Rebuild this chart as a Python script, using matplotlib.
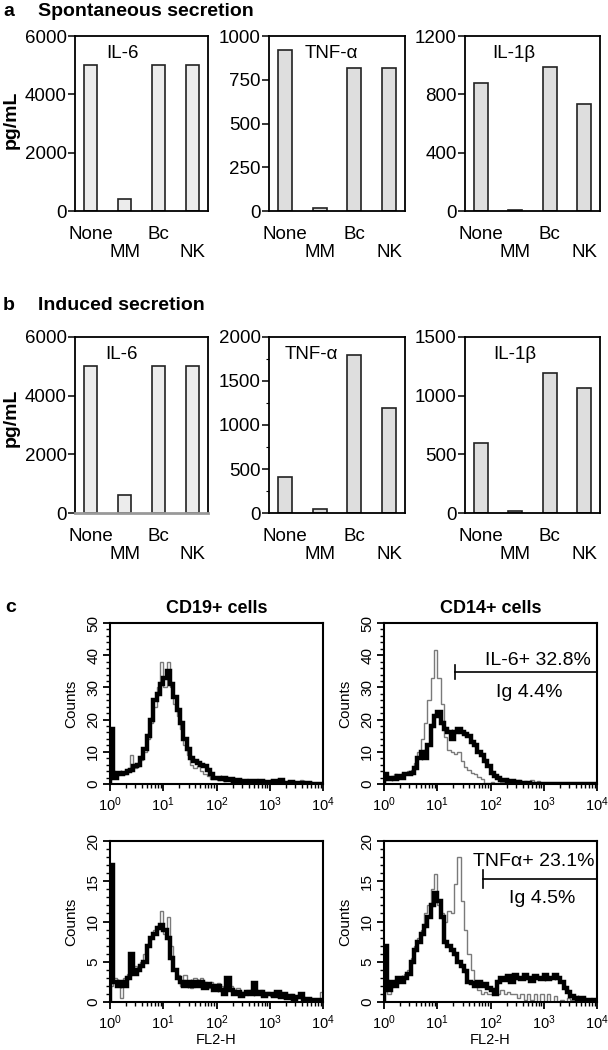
import matplotlib
matplotlib.use("Agg")
import matplotlib.pyplot as plt
import matplotlib.ticker as mticker
import numpy as np

plt.rcParams['font.family'] = ['Liberation Sans', 'DejaVu Sans']
plt.rcParams['mathtext.default'] = 'regular'

# ---- panel a / b: cytokine secretion (pg/mL) ----
categories = ["None", "MM", "Bc", "NK"]

spont_il6 = [5000, 420, 5000, 5000]
spont_tnf = [918, 19, 817, 817]
spont_il1b = [880, 8, 985, 734]

induced_il6 = [5000, 630, 5000, 5000]
induced_tnf = [405, 42, 1790, 1195]
induced_il1b = [600, 15, 1190, 1062]

# ---- panel c: flow histograms, 16 channels per decade (10^0 .. 10^4) ----
cd19_il6_stain = [17, 2, 3.5, 3, 3.5, 4, 4.5, 5.5, 6, 8, 11, 15, 20, 26, 28, 31,
                  33, 35, 31, 27, 23, 19, 14, 11, 8, 7, 6.5, 6, 5.5, 4.5, 3, 2,
                  1.8, 1.5, 1.8, 1.2, 1.5, 1, 1.2, 0.8, 1, 0.6, 0.8, 1, 0.5, 0.8, 0.4, 0.6,
                  0.4, 0.8, 0.5, 1.2, 0.4, 0.3, 0.5, 0.2, 0.3, 0.2, 0.1, 0.2, 0.1, 0, 0.1, 0]
cd19_il6_ctrl = [3, 2, 3, 3.5, 3, 4, 9, 5, 5.5, 7.5, 10, 14, 19, 24, 30, 38,
                 30, 38, 30, 25, 21, 17, 12, 9, 6, 5, 5.5, 4, 3, 2.5, 1.5, 1.5,
                 1.2, 1.5, 1, 1.2, 0.8, 1, 0.6, 0.8, 0.5, 0.8, 0.4, 0.6, 0.8, 0.4, 0.6, 0.3,
                 0.5, 0.3, 0.6, 0.8, 0.3, 0.5, 0.2, 0.6, 0.3, 1.2, 0.2, 0.3, 0.1, 0.2, 0, 0]
cd14_il6_stain = [3, 1.5, 2, 1.5, 2.5, 2, 3, 3, 3.5, 5, 8, 10, 8, 12, 18, 21,
                  22.5, 19, 17, 16, 14, 16, 17, 16, 15.5, 15, 13, 12, 10, 9, 7, 5.5,
                  3.5, 2.5, 1.8, 1.3, 1.2, 0.8, 1, 0.5, 0.5, 0.3, 0.2, 0.3, 0.1, 0, 0, 0,
                  0, 0, 0, 0, 0, 0, 0, 0, 0, 0, 0, 0, 0, 0, 0, 0]
cd14_il6_ctrl = [3, 2, 2.5, 3, 2, 3, 3.5, 4, 4.5, 6.5, 10, 14, 19, 26, 33, 41.5,
                 33, 25, 14.6, 10.6, 10, 9.3, 10, 7, 5.4, 4.5, 3.4, 3, 2.3, 1.5, 0.3, 0.2,
                 0.5, 0.2, 0.3, 0.5, 0.2, 0.3, 0.8, 0.5, 1.2, 0.5, 1, 0.5, 1.2, 0.3, 0.8, 0.2,
                 0, 0, 0, 0, 0, 0, 0, 0, 0, 0, 0, 0, 0, 0, 0, 0]
cd19_tnf_stain = [17, 2.5, 2, 2.5, 2, 3, 6, 3.5, 4, 4.5, 5, 7, 8, 8.5, 9.2, 9.6,
                  9, 8, 5.5, 4, 3, 2.5, 2, 2.5, 2, 2.5, 2, 2.5, 1.8, 2.2, 2, 1.5,
                  2, 1.5, 1, 3, 1.5, 1, 1.2, 0.8, 1, 1.2, 1, 2.3, 1, 1.2, 0.8, 1,
                  1, 0.8, 1.2, 0.6, 1, 0.5, 0.8, 0.4, 0.6, 1, 0.3, 0.4, 0.2, 0.3, 0.2, 0.3]
cd19_tnf_ctrl = [2, 3, 2, 0.5, 3, 3.5, 4, 4.5, 4, 5, 6, 7, 8, 9, 9.5, 11.3,
                 8.5, 10.5, 7, 4, 3.3, 2, 3.3, 2, 1.8, 3, 2, 3, 2.5, 1.8, 2.5, 1.8,
                 2.3, 2, 1.5, 2.5, 2, 1.5, 1.8, 1.2, 1, 1.5, 1.2, 1.8, 1.3, 1.5, 1, 1.2,
                 0.8, 1, 1.3, 0.8, 1, 0.7, 1, 0.6, 0.5, 0.8, 0.5, 0.4, 0.2, 0.3, 0.2, 1.3]
cd14_tnf_stain = [7, 1.5, 2.5, 2, 3, 2.5, 3, 3.5, 5, 6.5, 7.5, 8.5, 9.5, 10.5, 12, 13.5,
                  12.5, 10.5, 7.5, 7, 6.5, 6, 5, 4.5, 3.8, 2.5, 2.3, 2, 2.5, 2, 2.2, 1.8,
                  1.5, 1, 2.5, 3, 2.7, 3.2, 2.5, 3.3, 3, 2.8, 3.3, 3, 2.6, 3.2, 3, 2.8,
                  3.3, 2.8, 3, 3.3, 3, 2.5, 1.7, 1.3, 0.8, 0.5, 0.3, 0.5, 0.2, 0.3, 0.1, 0.2]
cd14_tnf_ctrl = [2, 1, 2.5, 2, 3, 3, 3.5, 4, 5.5, 7, 8, 9, 11, 12, 14, 15.9,
                 12, 11, 10, 11.3, 11, 14.6, 18, 12.5, 9, 6, 4, 2.3, 1.5, 1, 1.2, 1,
                 1, 1.2, 1, 1.5, 1, 1.2, 1, 1, 0.5, 1, 0.3, 1, 0.3, 1, 0, 1,
                 0, 1, 0, 0.8, 0, 0.3, 0, 0.5, 0.2, 0, 0, 0, 0, 0, 0, 0]

W, H = 608, 1050
fig = plt.figure(figsize=(W / 100, H / 100), dpi=100)


def add_box(x0, x1, ytop, ybot):
    # pixel box -> figure fraction
    return fig.add_axes([x0 / W, 1 - ybot / H, (x1 - x0) / W, (ybot - ytop) / H])


def bar_panel(ax, vals, ymax, step, name, name_x, color):
    x = np.arange(len(categories))
    ax.bar(x, vals, width=0.4, color=color, edgecolor='#222222', linewidth=1.2)
    ax.set_xlim(-0.46, 3.46)
    ax.set_ylim(0, ymax)
    ax.set_yticks(np.arange(0, ymax + 1, step))
    ax.set_xticks(x)
    ax.set_xticklabels([c if i % 2 == 0 else "\n" + c for i, c in enumerate(categories)],
                       linespacing=1.05)
    ax.tick_params(axis='x', length=0, pad=11, labelsize=13.5)
    ax.tick_params(axis='y', direction='out', length=5, width=1.1, labelsize=13.5, pad=1)
    for s in ax.spines.values():
        s.set_linewidth(1.3)
    ax.text(name_x, 0.9, name, transform=ax.transAxes, ha='center', va='center', fontsize=13.5)


light, mid = '#ececec', '#dedede'
xcols = [(75, 208), (269, 405), (465, 600)]

# panel a
row_a = [add_box(x0, x1, 36, 211) for x0, x1 in xcols]
bar_panel(row_a[0], spont_il6, 6000, 2000, "IL-6", 0.36, light)
bar_panel(row_a[1], spont_tnf, 1000, 250, "TNF-α", 0.46, mid)
bar_panel(row_a[2], spont_il1b, 1200, 400, "IL-1β", 0.36, mid)

# panel b
row_b = [add_box(x0, x1, 337, 513) for x0, x1 in xcols]
bar_panel(row_b[0], induced_il6, 6000, 2000, "IL-6", 0.35, light)
bar_panel(row_b[1], induced_tnf, 2000, 500, "TNF-α", 0.31, mid)
bar_panel(row_b[2], induced_il1b, 1500, 500, "IL-1β", 0.37, mid)
row_b[0].spines['bottom'].set_color('#999999')
row_b[0].spines['bottom'].set_linewidth(2)
row_b[1].yaxis.set_minor_locator(mticker.MultipleLocator(250))
row_b[1].tick_params(axis='y', which='minor', length=2, width=0.8)

for y, letter, title in [(12, "a", "Spontaneous secretion"), (305, "b", "Induced secretion")]:
    fig.text(3 / W, 1 - y / H, letter, fontsize=14, fontweight='bold', va='center')
    fig.text(38 / W, 1 - y / H, title, fontsize=14, fontweight='bold', va='center')
for y in (120, 418):
    fig.text(11 / W, 1 - y / H, "pg/mL", fontsize=14, fontweight='bold', rotation=90,
             ha='center', va='center')

# panel c
edges = 10 ** (np.arange(65) / 16)


def flow_panel(ax, stain, ctrl, ymax, major, minor, bottom_row):
    ax.stairs(ctrl, edges, color='#7a7a7a', lw=1.0)
    ax.stairs(stain, edges, color='black', lw=3.2)
    ax.set_xscale('log')
    ax.set_xlim(1, 1e4)
    ax.set_ylim(0, ymax)
    ax.xaxis.set_major_locator(mticker.LogLocator(base=10, numticks=10))
    ax.xaxis.set_minor_locator(mticker.LogLocator(base=10, subs=np.arange(2, 10), numticks=10))
    ax.xaxis.set_minor_formatter(mticker.NullFormatter())
    ax.yaxis.set_major_locator(mticker.MultipleLocator(major))
    ax.yaxis.set_minor_locator(mticker.MultipleLocator(minor))
    ax.tick_params(which='major', direction='out', length=5, width=1.3, labelsize=10.5)
    ax.tick_params(which='minor', direction='out', length=3, width=1.0)
    ax.tick_params(axis='y', labelrotation=90, pad=2, labelsize=11)
    ax.tick_params(axis='x', pad=3)
    for lbl in ax.get_yticklabels():
        lbl.set_va('center')
    for s in ax.spines.values():
        s.set_linewidth(1.5)
    ax.set_ylabel("Counts", fontsize=11, labelpad=6)
    if bottom_row:
        ax.set_xlabel("FL2-H", fontsize=10.5, labelpad=1)


ax_c1 = add_box(110, 323, 623, 784)
ax_c2 = add_box(384, 597, 623, 784)
ax_c3 = add_box(110, 323, 841, 1002)
ax_c4 = add_box(384, 597, 841, 1002)

flow_panel(ax_c1, cd19_il6_stain, cd19_il6_ctrl, 50, 10, 2, False)
flow_panel(ax_c2, cd14_il6_stain, cd14_il6_ctrl, 50, 10, 2, False)
flow_panel(ax_c3, cd19_tnf_stain, cd19_tnf_ctrl, 20, 5, 1, True)
flow_panel(ax_c4, cd14_tnf_stain, cd14_tnf_ctrl, 20, 5, 1, True)

ax_c1.set_title("CD19+ cells", fontsize=13, fontweight='bold', pad=7)
ax_c2.set_title("CD14+ cells", fontsize=13, fontweight='bold', pad=7)
fig.text(5 / W, 1 - 607 / H, "c", fontsize=14, fontweight='bold', va='center')

# gates
ax_c2.plot([10 ** 1.33, 1e4], [34.9, 34.9], color='black', lw=1.2)
ax_c2.plot([10 ** 1.33, 10 ** 1.33], [32.7, 37.1], color='black', lw=1.2)
ax_c2.text(10 ** 3.88, 38.3, "IL-6+ 32.8%", fontsize=14, ha='right', va='center')
ax_c2.text(10 ** 2.72, 28.5, "Ig 4.4%", fontsize=14, ha='center', va='center')

ax_c4.plot([10 ** 1.85, 1e4], [15.3, 15.3], color='black', lw=1.2)
ax_c4.plot([10 ** 1.85, 10 ** 1.85], [14.2, 16.4], color='black', lw=1.2)
ax_c4.text(10 ** 3.95, 17.4, "TNFα+ 23.1%", fontsize=14, ha='right', va='center')
ax_c4.text(10 ** 2.98, 12.8, "Ig 4.5%", fontsize=14, ha='center', va='center')

fig.savefig("out.png", dpi=100)
